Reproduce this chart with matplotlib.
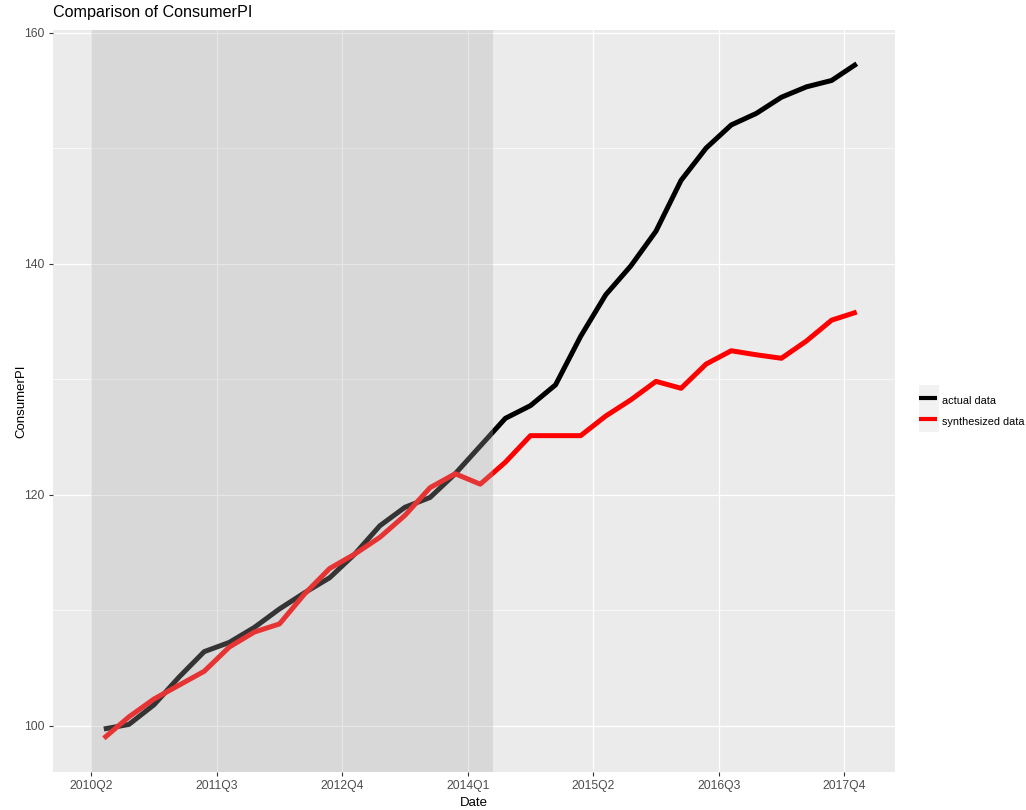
import matplotlib
matplotlib.use("Agg")
import matplotlib.pyplot as plt
import numpy as np
from matplotlib.lines import Line2D
from matplotlib.patches import Rectangle
from matplotlib.legend_handler import HandlerBase

plt.rcParams['font.family'] = ['Liberation Sans', 'DejaVu Sans']

# quarterly data, first observation in 2010Q2
tick_labels = ["2010Q2", "2011Q3", "2012Q4", "2014Q1", "2015Q2", "2016Q3", "2017Q4"]
actual = [99.7, 100.1, 101.8, 104.2, 106.4, 107.2, 108.5, 110.1, 111.5, 112.8,
          114.85, 117.3, 118.9, 119.75, 121.8, 124.2, 126.6, 127.7, 129.5, 133.7,
          137.3, 139.8, 142.8, 147.2, 150.0, 152.0, 153.0, 154.4, 155.3, 155.85, 157.3]
synth = [98.9, 100.75, 102.3, 103.5, 104.7, 106.8, 108.1, 108.8, 111.4, 113.6,
         114.85, 116.3, 118.2, 120.6, 121.8, 120.9, 122.8, 125.1, 125.1, 125.1,
         126.8, 128.2, 129.8, 129.2, 131.3, 132.45, 132.1, 131.8, 133.3, 135.1, 135.8]
pre_period = (0, 16)   # 2010Q2 .. 2014Q2, in quarters


class GGKey(HandlerBase):
    # grey key square with a centred line, like ggplot legends
    def create_artists(self, legend, orig_handle, xdescent, ydescent,
                       width, height, fontsize, trans):
        bg = Rectangle((-xdescent, -ydescent - 2), width, height + ydescent + 4,
                       facecolor="#F2F2F2", edgecolor="none", transform=trans)
        yc = -ydescent + (height + ydescent) / 2
        ln = Line2D([-xdescent, -xdescent + width * 0.92], [yc, yc],
                    color=orig_handle.get_color(), lw=3.0,
                    solid_capstyle="butt", transform=trans)
        return [bg, ln]


def main():
    n = len(actual)
    x = np.arange(n) + 0.5          # mid-quarter positions
    ticks = np.arange(len(tick_labels)) * 5

    fig = plt.figure(figsize=(10.26, 8.10), dpi=100)
    ax = fig.add_axes([53/1026, 1-772/810, (895-53)/1026, (772-30)/810])
    ax.set_facecolor("#EBEBEB")
    for s in ax.spines.values():
        s.set_visible(False)

    l1, = ax.plot(x, actual, color="black", lw=3.6, solid_capstyle="butt", zorder=2)
    l2, = ax.plot(x, synth, color="red", lw=3.6, solid_capstyle="butt", zorder=2)
    # shaded pre-treatment window, drawn over the lines like ggplot's annotate
    ax.axvspan(pre_period[0], pre_period[1], color="#ADADAD", alpha=0.3, lw=0, zorder=3)

    # ggplot-style 5% expansion
    xmin, xmax = pre_period[0], x.max()
    dx = 0.05 * (xmax - xmin)
    ax.set_xlim(xmin - dx, xmax + dx)
    ymin, ymax = min(min(actual), min(synth)), max(max(actual), max(synth))
    dy = 0.05 * (ymax - ymin)
    ax.set_ylim(ymin - dy, ymax + dy)

    ax.set_xticks(ticks)
    ax.set_xticklabels(tick_labels)
    ax.set_yticks([100, 120, 140, 160])
    ax.set_yticks([110, 130, 150], minor=True)
    ax.grid(which="major", color="white", lw=0.9, zorder=1)
    ax.grid(which="minor", axis="y", color="white", lw=0.5, zorder=1)
    ax.set_axisbelow(True)
    ax.tick_params(which="major", length=3, width=0.8, color="#333333",
                   labelcolor="#4D4D4D", labelsize=8.7, pad=3)
    ax.tick_params(which="minor", length=0)

    ax.set_xlabel("Date", fontsize=9.5, labelpad=3)
    ax.set_ylabel("ConsumerPI", fontsize=9.5, labelpad=-2.5)
    ax.set_title("Comparison of ConsumerPI", fontsize=11.6, loc="left", pad=9)

    fig.legend([l1, l2], ["actual data", "synthesized data"],
               handler_map={Line2D: GGKey()},
               loc="center left", bbox_to_anchor=(914/1026, 1-411/810),
               frameon=False, fontsize=7.8, handlelength=1.8, handleheight=1.9,
               handletextpad=0.3, labelspacing=0.45, borderpad=0)

    fig.savefig("out.png", dpi=100)

if __name__ == "__main__":
    main()
